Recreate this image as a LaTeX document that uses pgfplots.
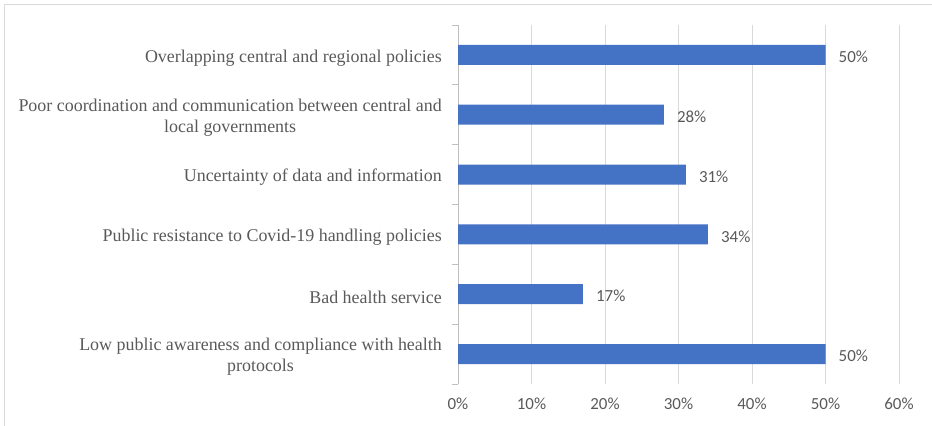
\documentclass[border=0pt]{standalone}
\usepackage{fontspec}
\setmainfont{Liberation Serif}
\newfontfamily\calib{Carlito}
\usepackage{pgfplots}
\pgfplotsset{compat=1.18}
\definecolor{barblue}{HTML}{4472C4}
\definecolor{gridgray}{HTML}{D9D9D9}
\definecolor{axisgray}{HTML}{BFBFBF}
\definecolor{txtgray}{HTML}{595959}
\definecolor{framegray}{HTML}{D9D9D9}
\begin{document}
\begin{tikzpicture}
\useasboundingbox (0,0) rectangle (932bp,426bp);
\draw[framegray, line width=1bp] (4.5bp,0) -- (4.5bp,421bp) -- (932bp,421bp);
\begin{axis}[
  at={(458bp,42bp)}, anchor=south west,
  scale only axis, width=441bp, height=359bp,
  xbar, bar width=20bp,
  xmin=0, xmax=60, ymin=-0.5, ymax=5.5,
  axis y line*=left, axis x line*=bottom,
  x axis line style={draw=none},
  y axis line style={draw=axisgray, line width=0.8bp},
  xtick={0,10,20,30,40,50,60},
  xticklabels={0\%,10\%,20\%,30\%,40\%,50\%,60\%},
  xtick style={draw=none},
  xmajorgrids=true,
  major grid style={draw=gridgray, line width=0.8bp},
  xticklabel style={font=\calib\fontsize{17}{20}\selectfont, text=txtgray, anchor=base, yshift=-25bp},
  ytick={0,1,2,3,4,5},
  yticklabels={{Low public awareness and compliance with health\\protocols},
    {Bad health service},
    {Public resistance to Covid-19 handling policies},
    {Uncertainty of data and information},
    {Poor coordination and communication between central and\\local governments},
    {Overlapping central and regional policies}},
  yticklabel style={font=\fontsize{18}{21}\selectfont, text=txtgray, align=center, anchor=east, xshift=-16bp, yshift=-3bp, inner sep=0pt},
  minor ytick={-0.5,0.5,1.5,2.5,3.5,4.5,5.5},
  tick align=outside,
  major tick length=0pt,
  minor tick length=6bp,
  major y tick style={draw=none},
  minor y tick style={draw=axisgray, line width=0.8bp},
  nodes near coords={\pgfmathprintnumber[assume math mode=true]{\pgfplotspointmeta}\%},
  point meta=x,
  nodes near coords style={font=\calib\fontsize{17}{20}\selectfont, text=txtgray, anchor=west, inner sep=0pt, xshift=13bp, yshift=-2bp},
]
\addplot[fill=barblue, draw=none] coordinates {
  (50,0) (17,1) (34,2) (31,3) (28,4) (50,5)
};
\end{axis}
\end{tikzpicture}
\end{document}
